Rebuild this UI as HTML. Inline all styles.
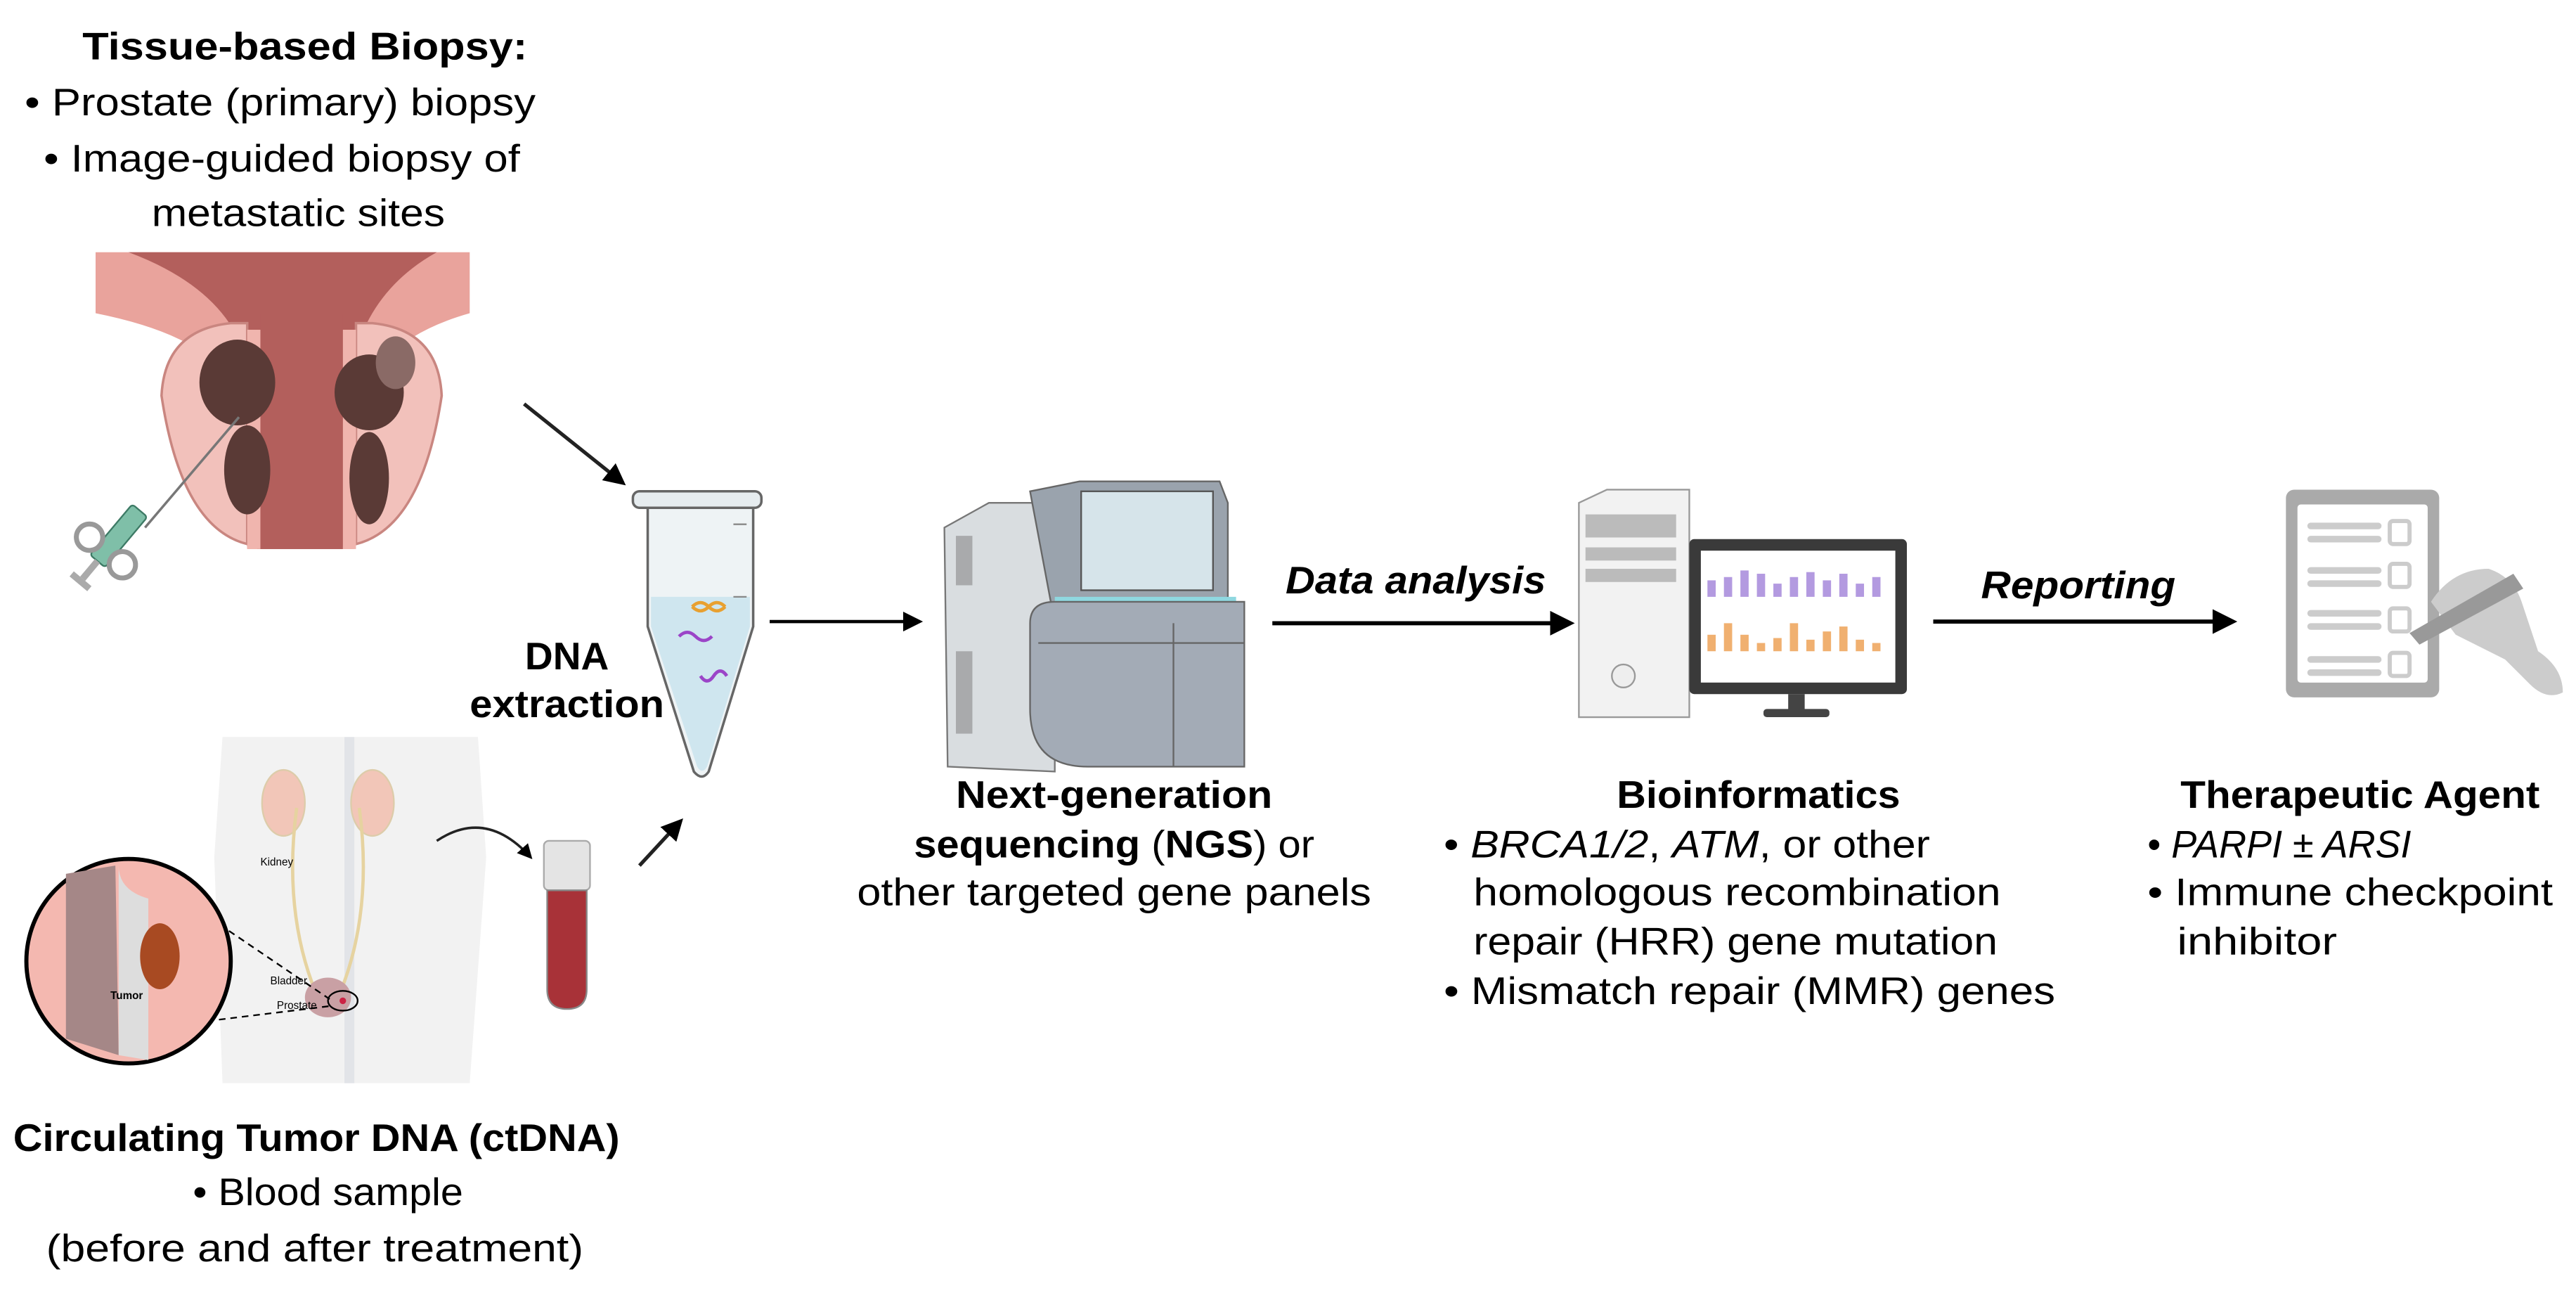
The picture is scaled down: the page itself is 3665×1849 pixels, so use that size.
<!DOCTYPE html>
<html><head><meta charset="utf-8"><style>
html,body{margin:0;padding:0;background:#fff;}
svg{display:block;}
text{font-family:"Liberation Sans",sans-serif;fill:#000;}
</style></head><body>
<svg width="3665" height="1849" viewBox="0 0 1563 788.5" preserveAspectRatio="none" xmlns="http://www.w3.org/2000/svg">
<defs>
<marker id="ah" markerWidth="6" markerHeight="6" refX="5" refY="3" orient="auto" markerUnits="strokeWidth"><path d="M0,0 L6,3 L0,6 z" fill="#000"/></marker>
</defs>
<rect width="1563" height="788.5" fill="#fff"/>

<g font-size="23.5" text-anchor="middle">
<text x="185" y="36" font-weight="bold" textLength="270" lengthAdjust="spacingAndGlyphs">Tissue-based Biopsy:</text>
<text x="170" y="70" textLength="310" lengthAdjust="spacingAndGlyphs">• Prostate (primary) biopsy</text>
<text x="171" y="104" textLength="289" lengthAdjust="spacingAndGlyphs">• Image-guided biopsy of</text>
<text x="181" y="137" textLength="178" lengthAdjust="spacingAndGlyphs">metastatic sites</text>
</g>

<!-- Prostate illustration -->
<g>
<path d="M58,153 L285,153 L285,190 Q232,205 222,240 L215,333 L150,333 L143,240 Q133,205 58,190 Z" fill="#e9a39c"/>
<path d="M78,153 L265,153 Q220,178 212,230 L208,333 L156,333 L152,230 Q145,178 78,153 Z" fill="#b35f5c"/>
<path d="M98,240 Q100,200 140,196 L150,196 L150,330 Q110,320 98,240 Z" fill="#f2c1bb" stroke="#c98680" stroke-width="1.5"/>
<path d="M268,240 Q266,200 226,196 L216,196 L216,330 Q256,320 268,240 Z" fill="#f2c1bb" stroke="#c98680" stroke-width="1.5"/>
<rect x="150" y="200" width="8" height="133" fill="#f0b5ae"/>
<rect x="208" y="200" width="8" height="133" fill="#f0b5ae"/>
<rect x="158" y="190" width="50" height="143" fill="#b35f5c"/>
<ellipse cx="144" cy="232" rx="23" ry="26" fill="#5a3a36"/>
<ellipse cx="150" cy="285" rx="14" ry="27" fill="#5a3a36"/>
<ellipse cx="224" cy="238" rx="21" ry="23" fill="#5a3a36"/>
<ellipse cx="240" cy="220" rx="12" ry="16" fill="#8a6a66"/>
<ellipse cx="224" cy="290" rx="12" ry="28" fill="#5a3a36"/>
<line x1="145" y1="253" x2="88" y2="320" stroke="#777" stroke-width="1.5"/>
<g transform="rotate(-50 72 325)">
<rect x="52" y="319" width="40" height="12" rx="2" fill="#7fbfa8" stroke="#3d7a65"/>
<circle cx="60" cy="312" r="8" fill="none" stroke="#999" stroke-width="3"/>
<circle cx="60" cy="338" r="8" fill="none" stroke="#999" stroke-width="3"/>
<rect x="38" y="323" width="14" height="4" fill="#aaa"/>
<rect x="34" y="318" width="4" height="14" fill="#aaa"/>
</g>
</g>

<line x1="318" y1="245" x2="378" y2="293" stroke="#222" stroke-width="2.2" marker-end="url(#ah)"/>
<line x1="388" y1="525" x2="413" y2="498" stroke="#222" stroke-width="2.2" marker-end="url(#ah)"/>

<!-- DNA tube -->
<g>
<rect x="384" y="298" width="78" height="10" rx="4" fill="#e6ecef" stroke="#666" stroke-width="1.5"/>
<path d="M393,308 L457,308 L457,380 L430,468 Q426,474 421,468 L393,380 Z" fill="#eef3f5" stroke="#666" stroke-width="1.5"/>
<path d="M395,362 L455,362 L455,380 L429,465 Q426,470 423,465 L395,380 Z" fill="#cfe6ef"/>
<path d="M420,368 q5,-5 10,0 q5,5 10,0" stroke="#e8a030" fill="none" stroke-width="2"/>
<path d="M420,368 q5,5 10,0 q5,-5 10,0" stroke="#e8a030" fill="none" stroke-width="2"/>
<path d="M412,386 q5,-5 10,0 q5,5 10,0" stroke="#9b45c8" fill="none" stroke-width="2"/>
<path d="M425,410 q4,6 8,0 q4,-6 8,0" stroke="#9b45c8" fill="none" stroke-width="2"/>
<line x1="445" y1="318" x2="453" y2="318" stroke="#888"/>
<line x1="445" y1="362" x2="453" y2="362" stroke="#888"/>
</g>
<g font-size="23.5" font-weight="bold" text-anchor="middle">
<text x="344" y="406">DNA</text>
<text x="344" y="435" textLength="118" lengthAdjust="spacingAndGlyphs">extraction</text>
</g>

<!-- Body -->
<g>
<path d="M135,447 L290,447 L295,520 L285,657 L135,657 L130,520 Z" fill="#f2f2f2"/>
<line x1="212" y1="447" x2="212" y2="657" stroke="#e2e4e8" stroke-width="6"/>
<ellipse cx="172" cy="487" rx="13" ry="20" fill="#f2c6b8" stroke="#dca"/>
<ellipse cx="226" cy="487" rx="13" ry="20" fill="#f2c6b8" stroke="#dca"/>
<path d="M180,490 Q172,550 190,598 M218,490 Q226,550 208,598" stroke="#e6d3a0" stroke-width="2" fill="none"/>
<ellipse cx="199" cy="605" rx="14" ry="12" fill="#c9a0a4"/>
<ellipse cx="208" cy="607" rx="9" ry="6" fill="none" stroke="#000" stroke-width="1"/>
<circle cx="208" cy="607" r="2" fill="#c24"/>
<text x="158" y="525" font-size="6.5" fill="#333">Kidney</text>
<text x="164" y="597" font-size="6.5" fill="#333">Bladder</text>
<text x="168" y="612" font-size="6.5" fill="#333">Prostate</text>
<line x1="110" y1="545" x2="200" y2="606" stroke="#000" stroke-dasharray="4,3" stroke-width="1"/>
<line x1="112" y1="621" x2="202" y2="610" stroke="#000" stroke-dasharray="4,3" stroke-width="1"/>
<circle cx="78" cy="583" r="62" fill="#f4b8b0" stroke="#000" stroke-width="2.5"/>
<path d="M40,530 L70,525 L72,640 L40,630 Z" fill="#a58787"/>
<path d="M72,525 Q72,540 90,545 L90,643 L72,640 Z" fill="#ddd"/>
<ellipse cx="97" cy="580" rx="12" ry="20" fill="#a84a22"/>
<text x="67" y="606" font-size="6.5" font-weight="bold" fill="#222">Tumor</text>
</g>
<path d="M265,510 Q295,490 322,520" stroke="#222" stroke-width="1.5" fill="none" marker-end="url(#ah)"/>

<rect x="330" y="510" width="28" height="30" rx="3" fill="#e4e4e4" stroke="#aaa"/>
<path d="M332,540 L356,540 L356,600 Q356,612 344,612 Q332,612 332,600 Z" fill="#a83238" stroke="#888"/>

<g font-size="23.5" text-anchor="middle">
<text x="192" y="698" font-weight="bold" textLength="368" lengthAdjust="spacingAndGlyphs">Circulating Tumor DNA (ctDNA)</text>
<text x="199" y="731" textLength="164" lengthAdjust="spacingAndGlyphs">• Blood sample</text>
<text x="191" y="765" textLength="326" lengthAdjust="spacingAndGlyphs">(before and after treatment)</text>
</g>

<line x1="467" y1="377" x2="558" y2="377" stroke="#000" stroke-width="2" marker-end="url(#ah)"/>

<!-- NGS machine -->
<g>
<path d="M573,320 L600,305 L640,305 L640,468 L575,465 Z" fill="#d9dde0" stroke="#777"/>
<path d="M625,298 L655,292 L740,292 L745,305 L745,378 L640,378 Z" fill="#9aa3ad" stroke="#666"/>
<rect x="656" y="298" width="80" height="60" fill="#d6e4ea" stroke="#555"/>
<rect x="640" y="362" width="110" height="3" fill="#8fd8e0"/>
<path d="M625,378 Q625,365 640,365 L755,365 L755,465 L660,465 Q625,465 625,430 Z" fill="#a3abb6" stroke="#666"/>
<line x1="712" y1="378" x2="712" y2="465" stroke="#666"/>
<line x1="630" y1="390" x2="755" y2="390" stroke="#666"/>
<rect x="580" y="325" width="10" height="30" fill="#888" opacity=".6"/>
<rect x="580" y="395" width="10" height="50" fill="#888" opacity=".6"/>
</g>
<g font-size="23.5" text-anchor="middle">
<text x="676" y="490" font-weight="bold" textLength="192" lengthAdjust="spacingAndGlyphs">Next-generation</text>
<text x="676" y="520" textLength="243" lengthAdjust="spacingAndGlyphs"><tspan font-weight="bold">sequencing </tspan>(<tspan font-weight="bold">NGS</tspan>)  or</text>
<text x="676" y="549" textLength="312" lengthAdjust="spacingAndGlyphs">other targeted gene panels</text>
</g>

<line x1="772" y1="378" x2="953" y2="378" stroke="#000" stroke-width="2.5" marker-end="url(#ah)"/>
<text x="859" y="360" font-size="23.5" font-weight="bold" font-style="italic" text-anchor="middle" textLength="158" lengthAdjust="spacingAndGlyphs">Data analysis</text>

<!-- Computer -->
<g>
<path d="M958,305 L975,297 L1025,297 L1025,435 L958,435 Z" fill="#f2f2f2" stroke="#999"/>
<rect x="962" y="312" width="55" height="14" fill="#bbb"/>
<rect x="962" y="332" width="55" height="8" fill="#bbb"/>
<rect x="962" y="345" width="55" height="8" fill="#bbb"/>
<circle cx="985" cy="410" r="7" fill="#eee" stroke="#999"/>
<rect x="1025" y="327" width="132" height="94" rx="3" fill="#3a3a3a"/>
<rect x="1032" y="334" width="118" height="80" fill="#fff"/>
<g fill="#b39ae0">
<rect x="1036" y="352" width="5" height="10"/><rect x="1046" y="350" width="5" height="12"/><rect x="1056" y="346" width="5" height="16"/><rect x="1066" y="348" width="5" height="14"/><rect x="1076" y="354" width="5" height="8"/><rect x="1086" y="350" width="5" height="12"/><rect x="1096" y="347" width="5" height="15"/><rect x="1106" y="352" width="5" height="10"/><rect x="1116" y="348" width="5" height="14"/><rect x="1126" y="354" width="5" height="8"/><rect x="1136" y="350" width="5" height="12"/>
</g>
<g fill="#f0b070">
<rect x="1036" y="385" width="5" height="10"/><rect x="1046" y="378" width="5" height="17"/><rect x="1056" y="385" width="5" height="10"/><rect x="1066" y="390" width="5" height="5"/><rect x="1076" y="387" width="5" height="8"/><rect x="1086" y="378" width="5" height="17"/><rect x="1096" y="388" width="5" height="7"/><rect x="1106" y="383" width="5" height="12"/><rect x="1116" y="380" width="5" height="15"/><rect x="1126" y="388" width="5" height="7"/><rect x="1136" y="390" width="5" height="5"/>
</g>
<rect x="1085" y="421" width="10" height="10" fill="#444"/>
<rect x="1070" y="430" width="40" height="5" rx="2" fill="#444"/>
</g>
<g font-size="23.5">
<text x="1067" y="490" font-weight="bold" text-anchor="middle" textLength="172" lengthAdjust="spacingAndGlyphs">Bioinformatics</text>
<text x="876" y="520" textLength="295" lengthAdjust="spacingAndGlyphs">• <tspan font-style="italic">BRCA1/2</tspan>, <tspan font-style="italic">ATM</tspan>, or other</text>
<text x="894" y="549" textLength="320" lengthAdjust="spacingAndGlyphs">homologous recombination</text>
<text x="894" y="579" textLength="318" lengthAdjust="spacingAndGlyphs">repair (HRR) gene mutation</text>
<text x="876" y="609" textLength="371" lengthAdjust="spacingAndGlyphs">• Mismatch repair (MMR) genes</text>
</g>

<line x1="1173" y1="377" x2="1355" y2="377" stroke="#000" stroke-width="2.5" marker-end="url(#ah)"/>
<text x="1261" y="363" font-size="23.5" font-weight="bold" font-style="italic" text-anchor="middle" textLength="118" lengthAdjust="spacingAndGlyphs">Reporting</text>

<!-- Clipboard -->
<g>
<rect x="1387" y="297" width="93" height="126" rx="5" fill="#aaa"/>
<rect x="1394" y="306" width="79" height="108" rx="2" fill="#fff"/>
<g fill="#ccc">
<rect x="1400" y="317" width="45" height="4" rx="2"/><rect x="1400" y="325" width="45" height="4" rx="2"/>
<rect x="1400" y="344" width="45" height="4" rx="2"/><rect x="1400" y="352" width="45" height="4" rx="2"/>
<rect x="1400" y="370" width="45" height="4" rx="2"/><rect x="1400" y="378" width="45" height="4" rx="2"/>
<rect x="1400" y="398" width="45" height="4" rx="2"/><rect x="1400" y="406" width="45" height="4" rx="2"/>
</g>
<g fill="none" stroke="#ccc" stroke-width="2.5">
<rect x="1450" y="316" width="12" height="14" rx="2"/><rect x="1450" y="342" width="12" height="14" rx="2"/><rect x="1450" y="369" width="12" height="14" rx="2"/><rect x="1450" y="396" width="12" height="14" rx="2"/>
</g>
<path d="M1475,365 Q1488,345 1510,345 Q1525,350 1530,365 L1540,395 Q1555,405 1555,420 Q1545,425 1535,415 L1520,400 L1490,385 Z" fill="#ccc"/>
<path d="M1462,384 L1525,348 L1531,357 L1468,391 Z" fill="#999"/>
</g>
<g font-size="23.5">
<text x="1432" y="490" font-weight="bold" text-anchor="middle" textLength="218" lengthAdjust="spacingAndGlyphs">Therapeutic Agent</text>
<text x="1303" y="520" textLength="160" lengthAdjust="spacingAndGlyphs">• <tspan font-style="italic">PARPI ± ARSI</tspan></text>
<text x="1303" y="549" textLength="246" lengthAdjust="spacingAndGlyphs">• Immune checkpoint</text>
<text x="1321" y="579" textLength="97" lengthAdjust="spacingAndGlyphs">inhibitor</text>
</g>
</svg>
</body></html>
